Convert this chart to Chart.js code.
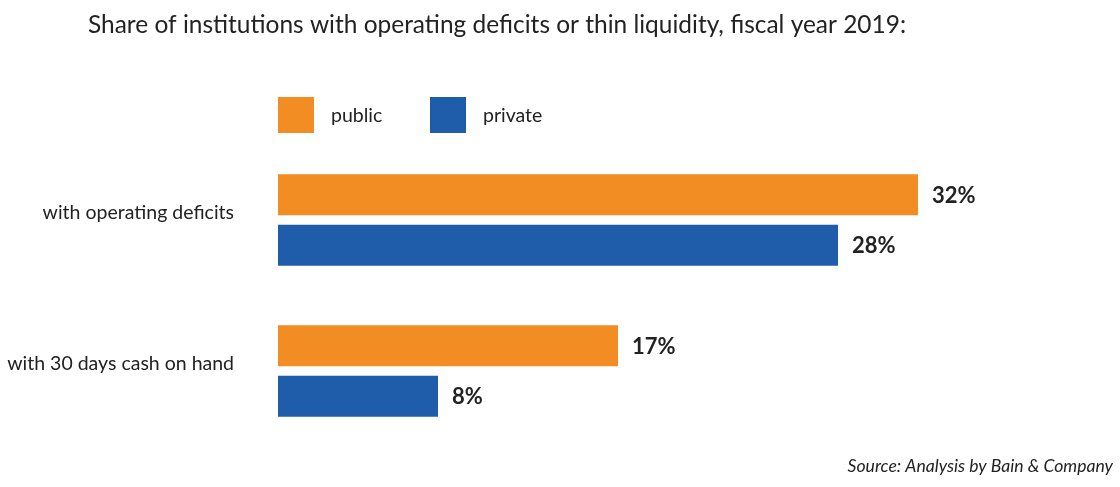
<!DOCTYPE html>
<html>
<head>
<meta charset="utf-8">
<script src="https://cdn.jsdelivr.net/npm/chart.js@4/dist/chart.umd.min.js"></script>
<style>
html,body{margin:0;padding:0;background:#fff;}
#wrap{position:relative;width:1120px;height:487px;}
</style>
</head>
<body>
<div id="wrap"><canvas id="c" width="1120" height="487"></canvas></div>
<script>
const titleText = "Share of institutions with operating deficits or thin liquidity, fiscal year 2019:";
const sourceText = "Source: Analysis by Bain & Company";
const categories = ["with operating deficits", "with 30 days cash on hand"];
const seriesNames = ["public", "private"];
const publicValues = [32, 17];
const privateValues = [28, 8];
const colors = ["#F18D23", "#1F5DAA"];
const textColor = "#222222";
const FONT = "Lato, 'Open Sans', sans-serif";

const overlay = {
  id: 'overlay',
  afterDraw(chart) {
    const ctx = chart.ctx;
    const area = chart.chartArea;
    ctx.save();
    // title
    ctx.fillStyle = textColor;
    ctx.font = "25px " + FONT;
    ctx.textBaseline = "alphabetic";
    ctx.textAlign = "left";
    ctx.fillText(titleText, 88, 33, 818);
    // legend
    let lx = area.left;
    ctx.font = "19.5px " + FONT;
    ctx.textBaseline = "middle";
    chart.data.datasets.forEach((ds, i) => {
      ctx.fillStyle = ds.backgroundColor;
      ctx.fillRect(lx, 97, 36, 36);
      ctx.fillStyle = textColor;
      ctx.fillText(ds.label, lx + 53, 116);
      lx += 152;
    });
    // value labels
    ctx.font = "bold 22px " + FONT;
    ctx.textBaseline = "middle";
    chart.data.datasets.forEach((ds, i) => {
      const meta = chart.getDatasetMeta(i);
      meta.data.forEach((bar, j) => {
        ctx.fillStyle = textColor;
        ctx.fillText(ds.data[j] + "%", bar.x + 14, bar.y + 1);
      });
    });
    // source
    ctx.font = "italic 17.6px " + FONT;
    ctx.textAlign = "right";
    ctx.textBaseline = "alphabetic";
    ctx.fillStyle = textColor;
    ctx.fillText(sourceText, 1113, 472);
    ctx.restore();
  }
};

new Chart(document.getElementById('c'), {
  type: 'bar',
  data: {
    labels: categories,
    datasets: [
      { label: seriesNames[0], data: publicValues, backgroundColor: colors[0] },
      { label: seriesNames[1], data: privateValues, backgroundColor: colors[1] }
    ]
  },
  options: {
    indexAxis: 'y',
    responsive: false,
    animation: false,
    events: [],
    categoryPercentage: 0.669,
    barPercentage: 0.81,
    layout: { autoPadding: false, padding: { top: 144.5, bottom: 40.5, left: 0, right: 42 } },
    plugins: { legend: { display: false }, title: { display: false }, tooltip: { enabled: false } },
    scales: {
      x: {
        min: 0, max: 40,
        display: false
      },
      y: {
        grid: { display: false },
        border: { display: false },
        ticks: {
          color: textColor,
          font: { family: FONT, size: 19.5 },
          padding: 36,
          labelOffset: -7
        },
        afterFit(scale) { scale.width = 278; scale.paddingTop = 0; scale.paddingBottom = 0; }
      }
    }
  },
  plugins: [overlay]
});
</script>
</body>
</html>
